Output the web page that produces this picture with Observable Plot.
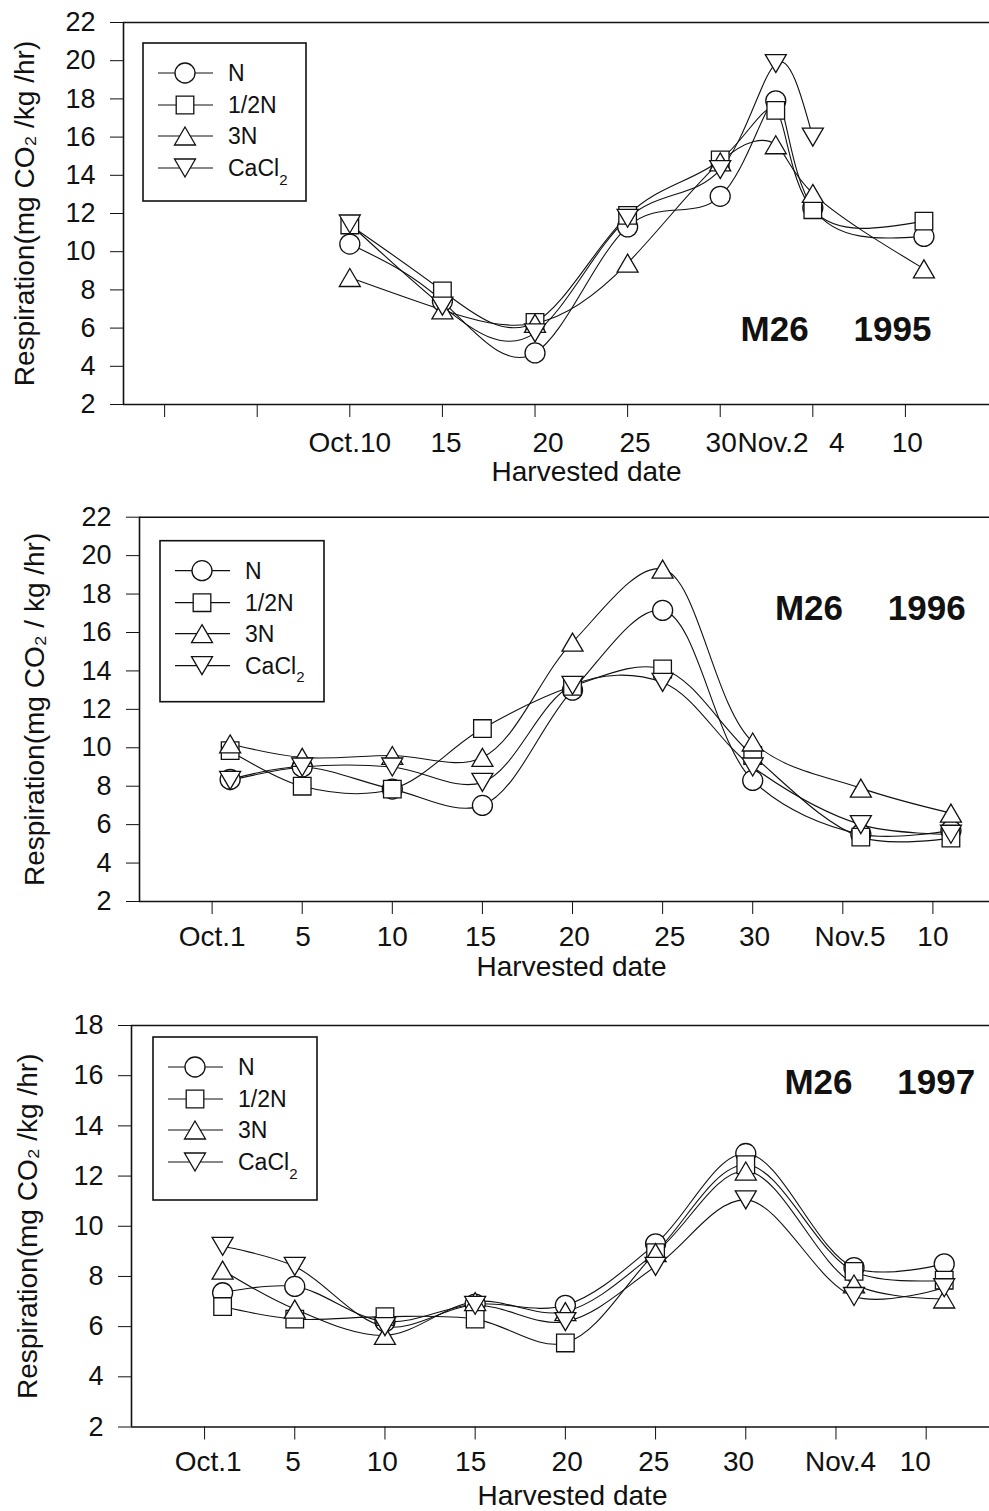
<!DOCTYPE html>
<html>
<head>
<meta charset="utf-8">
<script src="https://cdn.jsdelivr.net/npm/d3@7"></script>
<script src="https://cdn.jsdelivr.net/npm/@observablehq/plot@0.6"></script>
<style>
  html, body { margin: 0; padding: 0; background: #fff; }
  #chart { position: relative; width: 989px; height: 1511px; }
  #chart > div { position: absolute; left: 0; }
  svg { display: block; }
</style>
</head>
<body>
<div id="chart"></div>
<script>
// Treatments (legend order)
const treatments = ["N", "1/2N", "3N", "CaCl2"];

// Harvest day index: Oct d -> d, Nov d -> 31 + d
// ---- 1995 ----
const days1995 = [10, 15, 20, 25, 30, 33, 35, 41];
const n1995    = [10.4, 7.4, 4.7, 11.3, 12.9, 17.9, 12.3, 10.8];
const half1995 = [11.4, 7.95, 6.3, 11.9, 14.8, 17.4, 12.2, 11.6];
const tri1995  = [8.65, 6.95, 6.25, 9.4, 14.7, 15.6, 13.05, 9.1];
const ca1995   = [11.45, 7.15, 5.75, 11.75, 14.3, 19.85, 16.0, null];
const tickText1995 = ["Oct.10", "15", "20", "25", "30", "Nov.2", "4", "10"];
const tickAt1995   = [10, 15.2, 20.7, 25.4, 30.05, 32.85, 36.3, 40.1];

// ---- 1996 ----
const days1996 = [1, 5, 10, 15, 20, 25, 30, 36, 41];
const n1996    = [8.35, 9.0, 7.85, 7.0, 13.0, 17.15, 8.3, 5.5, 5.7];
const half1996 = [9.85, 8.0, 7.85, 11.0, 13.2, 14.1, 9.6, 5.35, 5.3];
const tri1996  = [10.2, 9.5, 9.6, 9.5, 15.5, 19.3, 10.3, 7.9, 6.6];
const ca1996   = [8.3, 9.0, 9.0, 8.2, 13.25, 13.4, 9.0, 6.0, 5.5];
const tickText1996 = ["Oct.1", "5", "10", "15", "20", "25", "30", "Nov.5", "10"];
const tickAt1996   = [0, 5.05, 10, 14.9, 20.1, 25.4, 30.1, 35.4, 40];

// ---- 1997 ----
const days1997 = [1, 5, 10, 15, 20, 25, 30, 36, 41];
const n1997    = [7.35, 7.6, 6.2, 6.9, 6.85, 9.3, 12.9, 8.35, 8.5];
const half1997 = [6.8, 6.3, 6.4, 6.3, 5.35, 8.95, 12.45, 8.2, 7.85];
const tri1997  = [8.25, 6.7, 5.65, 7.0, 6.6, 8.95, 12.2, 7.7, 7.1];
const ca1997   = [9.2, 8.4, 6.0, 6.85, 6.2, 8.4, 11.05, 7.2, 7.55];
const tickText1997 = ["Oct.1", "5", "10", "15", "20", "25", "30", "Nov.4", "10"];
const tickAt1997   = [0.2, 4.9, 9.85, 14.75, 20.1, 24.9, 29.6, 35.25, 39.4];

const yLabels = [
  "Respiration(mg CO\u2082 /kg /hr)",
  "Respiration(mg CO\u2082 / kg /hr)",
  "Respiration(mg CO\u2082 /kg /hr)"
];

const FONT = "'Liberation Sans', Arial, Helvetica, sans-serif";
const INK = "#111";

// Marker shapes: open circle, square, up triangle, down triangle
const rOf = size => Math.sqrt(size / Math.PI);
const symCircle = { draw(ctx, size) { const r = rOf(size); ctx.moveTo(r, 0); ctx.arc(0, 0, r, 0, 2 * Math.PI); } };
const symSquare = { draw(ctx, size) { const h = 0.88 * rOf(size); ctx.rect(-h, -h, 2 * h, 2 * h); } };
const symUp = { draw(ctx, size) { const r = rOf(size), w = 1.05 * r, h = 0.9 * r;
  ctx.moveTo(0, -h); ctx.lineTo(w, h); ctx.lineTo(-w, h); ctx.closePath(); } };
const symDown = { draw(ctx, size) { const r = rOf(size), w = 1.05 * r, h = 0.9 * r;
  ctx.moveTo(0, h); ctx.lineTo(w, -h); ctx.lineTo(-w, -h); ctx.closePath(); } };
const symbols = [symCircle, symSquare, symUp, symDown];
const R = 10;

function legend(svg, left, top, w, h) {
  const g = d3.select(svg).append("g").attr("transform", `translate(${left},${top})`);
  g.append("rect").attr("width", w).attr("height", h)
    .attr("fill", "white").attr("stroke", INK).attr("stroke-width", 1.6);
  const rowY = [30, 62, 93, 125];
  treatments.forEach((t, i) => {
    const row = g.append("g").attr("transform", `translate(0,${rowY[i]})`);
    row.append("line").attr("x1", 15).attr("x2", 70).attr("stroke", INK).attr("stroke-width", 1.2);
    row.append("path").attr("transform", "translate(42,0)")
      .attr("d", d3.symbol(symbols[i], Math.PI * R * R)())
      .attr("fill", "white").attr("stroke", INK).attr("stroke-width", 1.3);
    const txt = row.append("text").attr("x", 85).attr("dy", "0.36em")
      .attr("text-anchor", "start")
      .attr("font-size", 23).attr("fill", INK).attr("font-family", FONT);
    const m = /^(.*[A-Za-z])(\d)$/.exec(t);
    if (m) {
      txt.append("tspan").text(m[1]);
      txt.append("tspan").attr("font-size", 15).attr("dy", "0.55em").text(m[2]);
    } else {
      txt.text(t);
    }
  });
}

function panel(cfg) {
  const rows = [];
  cfg.series.forEach((vals, si) => vals.forEach((v, i) => {
    if (v != null) rows.push({ treatment: treatments[si], day: cfg.days[i], value: v });
  }));
  const svg = Plot.plot({
    width: 989,
    height: cfg.height,
    marginTop: cfg.marginTop,
    marginBottom: cfg.marginBottom,
    marginLeft: cfg.marginLeft,
    marginRight: 0,
    style: { fontFamily: FONT, fontSize: "27px", color: INK, background: "white", overflow: "visible" },
    x: { domain: cfg.xDomain, ticks: d3.range(0, 41, 5), tickSize: 13, tickFormat: () => "", label: null },
    y: { domain: cfg.yDomain, ticks: d3.range(cfg.yDomain[0], cfg.yDomain[1] + 1, 2), tickSize: 13, tickPadding: 15, label: null },
    marks: [
      Plot.ruleY(cfg.yDomain, { stroke: INK, strokeWidth: 1.6 }),
      Plot.ruleX([cfg.xDomain[0]], { stroke: INK, strokeWidth: 1.6 }),
      Plot.line(rows, { x: "day", y: "value", z: "treatment", curve: cfg.curve, stroke: INK, strokeWidth: 1.1 }),
      ...treatments.map((t, i) => Plot.dot(rows.filter(d => d.treatment === t), {
        x: "day", y: "value", symbol: symbols[i], r: R, fill: "white", stroke: INK, strokeWidth: 1.3
      })),
      Plot.text(cfg.tickText, { text: d => d, x: (d, i) => cfg.tickAt[i], frameAnchor: "bottom",
        dy: cfg.tickDy, lineAnchor: "bottom", fontSize: 28 }),
      Plot.text([cfg.yLabel], { text: d => d, frameAnchor: "left", dx: cfg.yLabelDx, rotate: -90,
        textAnchor: "middle", lineAnchor: "bottom", fontSize: 28 }),
      Plot.text(["Harvested date"], { text: d => d, frameAnchor: "bottom", dx: cfg.xLabelDx, dy: cfg.xLabelDy,
        textAnchor: "middle", lineAnchor: "bottom", fontSize: 28 }),
      Plot.text(cfg.title, { text: d => d, x: (d, i) => cfg.titleX[i], y: () => cfg.titleY,
        textAnchor: "start", lineAnchor: "bottom", fontSize: 35, fontWeight: "bold" })
    ]
  });
  legend(svg, cfg.marginLeft + cfg.legend[0], cfg.marginTop + cfg.legend[1], cfg.legend[2], cfg.legend[3]);
  const holder = document.createElement("div");
  holder.style.top = cfg.top + "px";
  holder.appendChild(svg);
  document.getElementById("chart").appendChild(holder);
}

panel({
  top: 0, height: 495, marginTop: 22, marginBottom: 91, marginLeft: 123,
  xDomain: [-2.22, 44.54], yDomain: [2, 22], curve: "natural",
  days: days1995, series: [n1995, half1995, tri1995, ca1995],
  tickText: tickText1995, tickAt: tickAt1995, tickDy: 47,
  yLabel: yLabels[0], yLabelDx: -90,
  xLabelDx: 30, xLabelDy: 76,
  title: ["M26", "1995"], titleX: [31.1, 37.2], titleY: 5.3,
  legend: [20, 21, 163, 158]
});

panel({
  top: 495, height: 510, marginTop: 21.7, marginBottom: 104, marginLeft: 139,
  xDomain: [-4.03, 43.14], yDomain: [2, 22], curve: "catmull-rom",
  days: days1996, series: [n1996, half1996, tri1996, ca1996],
  tickText: tickText1996, tickAt: tickAt1996, tickDy: 44,
  yLabel: yLabels[1], yLabelDx: -96,
  xLabelDx: 7, xLabelDy: 74,
  title: ["M26", "1996"], titleX: [31.23, 37.5], titleY: 16.63,
  legend: [21, 24, 164, 161]
});

panel({
  top: 1005, height: 506, marginTop: 20, marginBottom: 84.5, marginLeft: 131,
  xDomain: [-4.05, 43.51], yDomain: [2, 18], curve: "catmull-rom",
  days: days1997, series: [n1997, half1997, tri1997, ca1997],
  tickText: tickText1997, tickAt: tickAt1997, tickDy: 44,
  yLabel: yLabels[2], yLabelDx: -94.5,
  xLabelDx: 12, xLabelDy: 78,
  title: ["M26", "1997"], titleX: [32.14, 38.4], titleY: 15.29,
  legend: [22, 12, 164, 163]
});
</script>
</body>
</html>
